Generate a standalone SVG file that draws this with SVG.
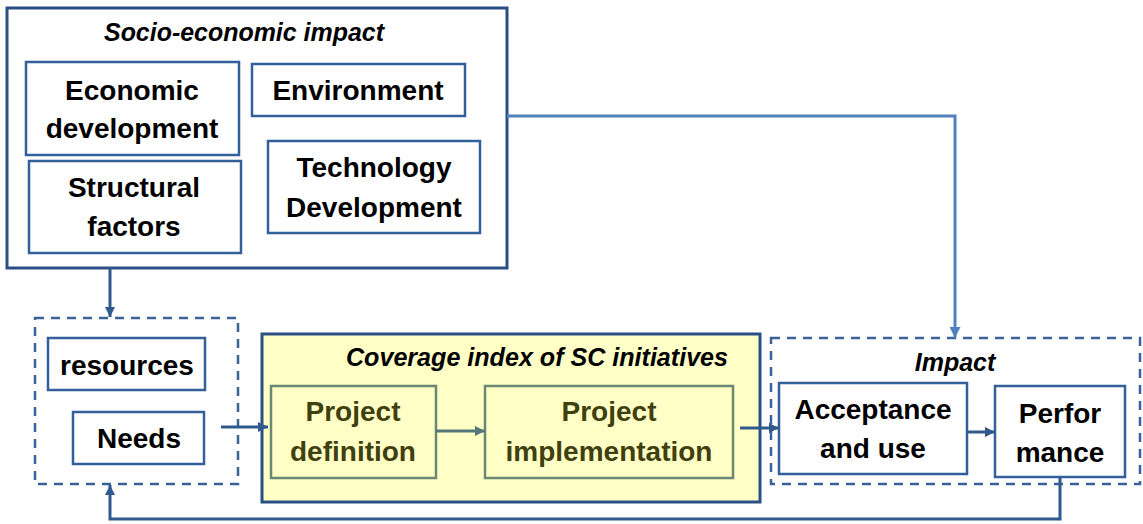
<svg xmlns="http://www.w3.org/2000/svg" width="1143" height="524" viewBox="0 0 1143 524">
<defs>
<marker id="ah" viewBox="0 0 10 10" refX="10" refY="5" markerWidth="10" markerHeight="10" markerUnits="userSpaceOnUse" orient="auto"><path d="M0,0 L10,5 L0,10 z" fill="#2E5A8E"/></marker>
<marker id="ahl" viewBox="0 0 10 10" refX="10" refY="5" markerWidth="11" markerHeight="11" markerUnits="userSpaceOnUse" orient="auto"><path d="M0,0 L10,5 L0,10 z" fill="#4F81BD"/></marker>
<marker id="ahg" viewBox="0 0 10 10" refX="10" refY="5" markerWidth="10" markerHeight="10" markerUnits="userSpaceOnUse" orient="auto"><path d="M0,0 L10,5 L0,10 z" fill="#56777A"/></marker>
</defs>
<style>
.box{fill:#fff;stroke:#33609A;stroke-width:2.5}
.outer{fill:#fff;stroke:#2A4F86;stroke-width:3}
.dash{fill:none;stroke:#3A6296;stroke-width:2.5;stroke-dasharray:9,7}
.ybox{fill:#FFFFC6;stroke:#2A4F86;stroke-width:3}
.gbox{fill:#FFFFC6;stroke:#6A8874;stroke-width:2.5}
.t{font-family:"Liberation Sans",Arial,sans-serif;font-weight:bold;font-size:28px;fill:#000;text-anchor:middle}
.g{fill:#3F3F10}
.ti{font-family:"Liberation Sans",Arial,sans-serif;font-weight:bold;font-style:italic;font-size:25px;fill:#000;text-anchor:middle}
.c{fill:none;stroke:#2E5A8E;stroke-width:3}
.cl{fill:none;stroke:#4F81BD;stroke-width:3}
.cg{fill:none;stroke:#56777A;stroke-width:3}
</style>
<g id="socio-economic">
<rect class="outer" x="7" y="8" width="500" height="260"/>
<text class="ti" x="244" y="41" textLength="280" lengthAdjust="spacingAndGlyphs">Socio-economic impact</text>
</g>
<g id="economic-development">
<rect class="box" x="26" y="62" width="213" height="93"/>
<text class="t" x="132" y="100">Economic</text>
<text class="t" x="132" y="138">development</text>
</g>
<g id="environment">
<rect class="box" x="252" y="64" width="213" height="52"/>
<text class="t" x="358" y="100">Environment</text>
</g>
<g id="structural-factors">
<rect class="box" x="29" y="161" width="212" height="92"/>
<text class="t" x="134" y="197">Structural</text>
<text class="t" x="134" y="236">factors</text>
</g>
<g id="technology-development">
<rect class="box" x="268" y="141" width="212" height="92"/>
<text class="t" x="374" y="177">Technology</text>
<text class="t" x="374" y="217">Development</text>
</g>
<g id="inputs">
<rect class="dash" x="35" y="318" width="203" height="166"/>
</g>
<g id="resources">
<rect class="box" x="48" y="338" width="157" height="52"/>
<text class="t" x="127" y="375">resources</text>
</g>
<g id="needs">
<rect class="box" x="73" y="412" width="131" height="52"/>
<text class="t" x="139" y="448">Needs</text>
</g>
<g id="coverage">
<rect class="ybox" x="262" y="334" width="498" height="168"/>
<text class="ti" x="537" y="366" textLength="382" lengthAdjust="spacingAndGlyphs">Coverage index of SC initiatives</text>
</g>
<g id="project-definition">
<rect class="gbox" x="271" y="386" width="165" height="92"/>
<text class="t g" x="353" y="421">Project</text>
<text class="t g" x="353" y="461">definition</text>
</g>
<g id="project-implementation">
<rect class="gbox" x="485" y="386" width="248" height="92"/>
<text class="t g" x="609" y="421">Project</text>
<text class="t g" x="609" y="461">implementation</text>
</g>
<g id="impact">
<rect class="dash" x="771" y="338" width="369" height="146"/>
<text class="ti" x="955" y="371">Impact</text>
</g>
<g id="acceptance">
<rect class="box" x="779" y="383" width="188" height="91"/>
<text class="t" x="873" y="419">Acceptance</text>
<text class="t" x="873" y="458">and use</text>
</g>
<g id="performance">
<rect class="box" x="995" y="386" width="130" height="91"/>
<text class="t" x="1060" y="423">Perfor</text>
<text class="t" x="1060" y="462">mance</text>
</g>
<g id="connectors">
<path class="c" d="M110,268 V317" marker-end="url(#ah)"/>
<path class="cl" d="M507,116 H955 V338" marker-end="url(#ahl)"/>
<path class="c" d="M221,427 H268" marker-end="url(#ah)"/>
<path class="cg" d="M436,431 H485" marker-end="url(#ahg)"/>
<path class="c" d="M740,428 H779" marker-end="url(#ah)"/>
<path class="c" d="M967,432 H995" marker-end="url(#ah)"/>
<path class="c" d="M1060,477 V519 H110 V485" marker-end="url(#ah)"/>
</g>
</svg>
